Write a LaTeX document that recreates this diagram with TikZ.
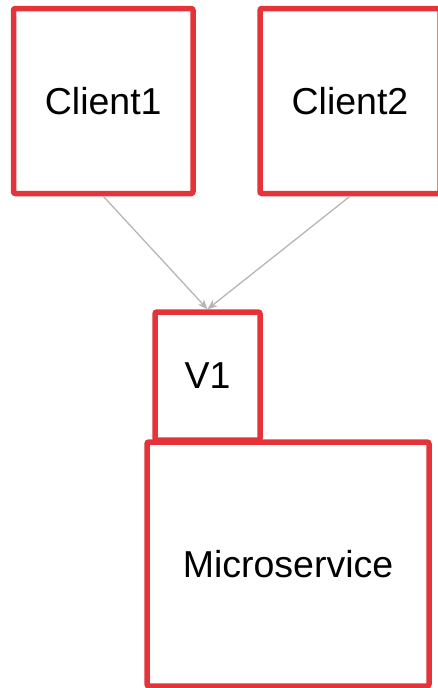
\documentclass[tikz,border=0pt]{standalone}
\usepackage{fontspec}
\setmainfont{Liberation Sans}
\usetikzlibrary{arrows.meta}
\definecolor{boxred}{RGB}{228,52,58}
\definecolor{flowgray}{RGB}{182,182,182}
\begin{document}
\begin{tikzpicture}
		[x=1pt,y=-1pt,
		box/.style={rectangle,draw=boxred,fill=white,line width=5.5pt,rounded corners=2pt,
inner sep=0pt,font=\fontsize{37.5}{45}\selectfont},
		flow/.style={-{Stealth[length=10pt,width=8pt]},flowgray,line width=1.3pt}]
		\useasboundingbox (0,0) rectangle (437,688);
		\node at (103.25, 101) (client1) [box,minimum width=179.5pt,minimum height=185pt] {Client1};
		\node at (350, 101) (client2) [box,minimum width=180pt,minimum height=185pt] {Client2};
		\node at (207.5, 376) (v1) [box,minimum width=105pt,minimum height=128pt] {V1};
		\node at (288, 564) (microservice) [box,minimum width=282pt,minimum height=244pt] {Microservice};
		\draw [flow] (client1.south) -- (v1.north);
		\draw [flow] (client2.south) -- (v1.north);
	\end{tikzpicture}
\end{document}
